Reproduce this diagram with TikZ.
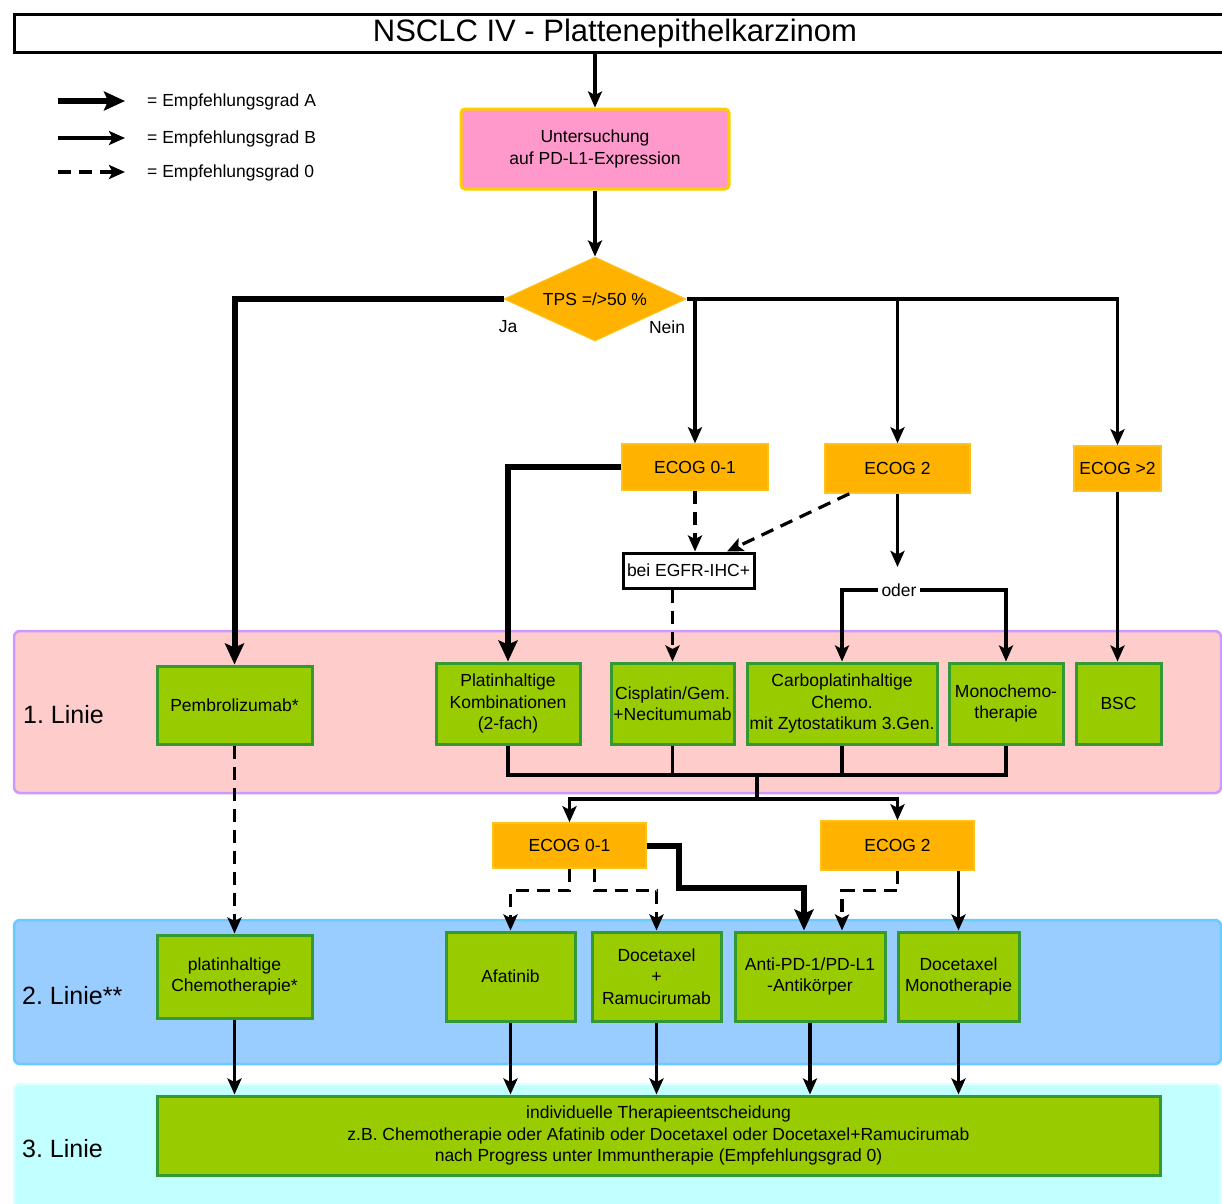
\documentclass[tikz,border=0pt]{standalone}
\usepackage{fontspec}
\setmainfont{Liberation Sans}
\usetikzlibrary{shapes.geometric,arrows.meta,calc}
\definecolor{pinkf}{HTML}{FF99CC}
\definecolor{goldb}{HTML}{FFCC00}
\definecolor{orf}{HTML}{FFB300}
\definecolor{orb}{HTML}{FFC21A}
\definecolor{grf}{HTML}{99CC00}
\definecolor{grb}{HTML}{339933}
\definecolor{bafill}{HTML}{FFCCCC}
\definecolor{badraw}{HTML}{CC99FF}
\definecolor{bbfill}{HTML}{99CCFF}
\definecolor{bbdraw}{HTML}{66CCFF}
\definecolor{bcfill}{HTML}{C2FFFF}
\definecolor{bcdraw}{HTML}{DDFFFF}
\frenchspacing
\begin{document}
\begin{tikzpicture}[x=1pt,y=-1pt,
 every node/.style={font=\fontsize{17.5}{21.5}\selectfont, inner sep=0pt, align=center},
 band/.style={rectangle, rounded corners=6pt, line width=2.5pt},
 bandlabel/.style={anchor=west, font=\fontsize{25}{29}\selectfont},
 gbox/.style={rectangle, fill=grf, draw=grb, line width=3pt},
 obox/.style={rectangle, fill=orf, draw=orb, line width=1.5pt},
 gradeA/.style={line width=6pt, -{Stealth[length=21pt,width=19pt,inset=4pt]}},
 gradeB/.style={line width=3.2pt, -{Stealth[length=16pt,width=14pt,inset=3.5pt]}},
 gradeZ/.style={line width=3.2pt, dash pattern=on 13pt off 8pt, -{Stealth[length=16pt,width=14pt,inset=3.5pt]}},
 plainline/.style={line width=3.2pt},
 thickline/.style={line width=6pt}
]
\useasboundingbox (0,0) rectangle (1222,1203);

% bands
\node[band, fill=bafill, draw=badraw, minimum width=1207pt, minimum height=162pt] (b1) at (617.5,712) {};
\node[band, fill=bbfill, draw=bbdraw, minimum width=1207pt, minimum height=144pt] (b2) at (617.5,992) {};
\node[band, fill=bcfill, draw=bcdraw, minimum width=1207pt, minimum height=130pt] (b3) at (617.5,1149) {};
\node[bandlabel] (l1) at (23,715) {1. Linie};
\node[bandlabel] (l2) at (22,996) {2. Linie**};
\node[bandlabel] (l3) at (22,1149) {3. Linie};

% title
\node[rectangle, draw=black, fill=white, line width=3pt, minimum width=1212pt, minimum height=38pt, font=\fontsize{31}{36}\selectfont] (title) at (620,33) {\hspace*{-10pt}\raisebox{-2pt}{NSCLC IV - Plattenepithelkarzinom}};

% legend
\coordinate (la1) at (58,101); \coordinate (la2) at (125,101);
\coordinate (lb1) at (58,138); \coordinate (lb2) at (125,138);
\coordinate (lc1) at (58,172); \coordinate (lc2) at (125,172);
\draw[gradeA] (la1) -- (la2);
\draw[gradeB] (lb1) -- (lb2);
\draw[gradeZ] (lc1) -- (lc2);
\node[anchor=west] (lta) at (147,102) {= Empfehlungsgrad A};
\node[anchor=west] (ltb) at (147,139) {= Empfehlungsgrad B};
\node[anchor=west] (ltc) at (147,173) {= Empfehlungsgrad 0};

% top
\node[rectangle, rounded corners=4pt, fill=pinkf, draw=goldb, line width=3pt, minimum width=268pt, minimum height=80pt] (unt) at (595,149) {Untersuchung\\auf PD-L1-Expression};
\node[diamond, aspect=2.2, fill=orf, draw=orb, line width=1pt, minimum width=182pt, minimum height=84pt] (tps) at (595,299) {TPS =/>50 \%};
\node (ja) at (508,327) {Ja};
\node (nein) at (667,327) {Nein};

\node[obox, minimum width=146pt, minimum height=46pt] (e01) at (695,467) {ECOG 0-1};
\node[obox, minimum width=145pt, minimum height=49pt] (e2) at (897.5,468.5) {ECOG 2};
\node[obox, minimum width=87pt, minimum height=45pt] (e3) at (1117.5,468.5) {ECOG >2};
\node[rectangle, draw=black, fill=white, line width=3pt, minimum width=131pt, minimum height=35pt] (egfr) at (688.5,570.5) {bei EGFR-IHC+};
\coordinate (odertip) at (897.5,567);

% first line boxes
\node[gbox, minimum width=155pt, minimum height=78pt] (pem) at (234.5,705) {Pembrolizumab*};
\node[gbox, minimum width=144pt, minimum height=81pt] (plat) at (508,703.5) {Platinhaltige\\Kombinationen\\(2-fach)};
\node[gbox, minimum width=123pt, minimum height=81pt] (cis) at (672.5,703.5) {Cisplatin/Gem.\\+Necitumumab};
\node[gbox, minimum width=190pt, minimum height=81pt] (carbo) at (842,703.5) {Carboplatinhaltige\\Chemo.\\mit Zytostatikum 3.Gen.};
\node[gbox, minimum width=114pt, minimum height=81pt] (mono) at (1006,703.5) {Monochemo-\\therapie};
\node[gbox, minimum width=85pt, minimum height=81pt] (bsc) at (1118.5,703.5) {BSC};

% second ECOG
\node[obox, minimum width=153pt, minimum height=45pt] (f01) at (569.5,845.5) {ECOG 0-1};
\node[obox, minimum width=153pt, minimum height=49pt] (f2) at (897.5,845.5) {ECOG 2};
\coordinate (j1) at (757,775);
\coordinate (j2) at (757,799);

% second line boxes
\node[gbox, minimum width=155pt, minimum height=83pt] (pch) at (234.5,976.5) {platinhaltige\\Chemotherapie*};
\node[gbox, minimum width=129pt, minimum height=89pt] (afa) at (510.5,976.5) {Afatinib};
\node[gbox, minimum width=129pt, minimum height=89pt] (dram) at (656.5,976.5) {Docetaxel\\+\\Ramucirumab};
\node[gbox, minimum width=150pt, minimum height=89pt] (anti) at (810,976.5) {Anti-PD-1/PD-L1\\-Antikörper};
\node[gbox, minimum width=121pt, minimum height=89pt] (dmono) at (958.5,976.5) {Docetaxel\\Monotherapie};

% third line box
\node[gbox, minimum width=1003pt, minimum height=79pt] (ind) at (658.5,1135.5) {individuelle Therapieentscheidung\\z.B. Chemotherapie oder Afatinib oder Docetaxel oder Docetaxel+Ramucirumab\\nach Progress unter Immuntherapie (Empfehlungsgrad 0)};

% connectors top
\draw[gradeB] (title.south -| unt.north) -- (unt.north);
\draw[gradeB] (unt.south) -- (tps.north);
\draw[gradeA] (tps.west) -| (pem.north);
\draw[gradeB] (tps.east) -| (e3.north);
\draw[gradeB] (tps.east -| e01.north) -- (e01.north);
\draw[gradeB] (tps.east -| e2.north) -- (e2.north);
\draw[gradeA] (e01.west) -| (plat.north);
\draw[gradeZ] (e01.south) -- (e01.south |- egfr.north);
\draw[gradeZ] ($(e2.south west)+(25,0)$) -- ($(egfr.north)+(38.5,0)$);
\draw[gradeZ] (egfr.south -| cis.north) -- (cis.north);
\draw[gradeB] (e2.south) -- (odertip);
\draw[gradeB] (e3.south) -- (e3.south |- bsc.north);

% oder split
\node[fill=white, inner sep=3pt] (oder) at (899,590) {oder};
\draw[gradeB] (oder.west) -| (carbo.north);
\draw[gradeB] (oder.east) -| (mono.north);

% collector
\draw[plainline] (plat.south) |- (mono.south |- j1) -- (mono.south);
\draw[plainline] (cis.south) -- (cis.south |- j1);
\draw[plainline] (carbo.south) -- (carbo.south |- j1);
\draw[plainline] (j1) -- (j2);
\draw[gradeB] (j2) -| (f01.north);
\draw[gradeB] (j2) -| (f2.north);

% to second line
\draw[gradeZ] (pem.south) -- (pch.north);
\draw[gradeZ] (f01.south) -- ++(0,22) -| (afa.north);
\draw[gradeZ] ($(f01.south)+(25,0)$) -- ++(0,22) -| (dram.north);
\draw[gradeA] (f01.east) -- ++(32,0) -- ++(0,42) -| ($(anti.north)+(-6,0)$);
\draw[gradeZ] (f2.south) -- ++(0,20) -| ($(anti.north)+(32,0)$);
\draw[gradeB] (f2.south -| dmono.north) -- (dmono.north);

% to third line
\draw[gradeB] (pch.south) -- (pch.south |- ind.north);
\draw[gradeB] (afa.south) -- (afa.south |- ind.north);
\draw[gradeB] (dram.south) -- (dram.south |- ind.north);
\draw[gradeB] (anti.south) -- (anti.south |- ind.north);
\draw[gradeB] (dmono.south) -- (dmono.south |- ind.north);
\end{tikzpicture}
\end{document}
